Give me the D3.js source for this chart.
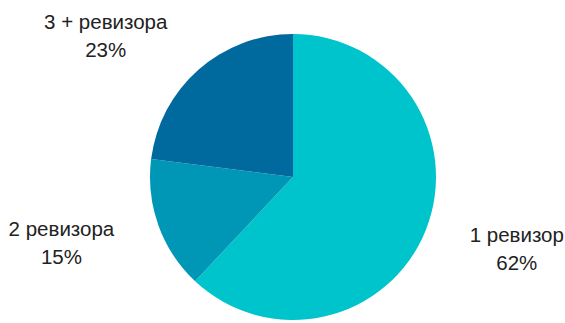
<!DOCTYPE html>
<html>
<head>
<meta charset="utf-8">
<script src="https://cdn.jsdelivr.net/npm/d3@7"></script>
<style>
  html, body { margin: 0; padding: 0; background: #fff; }
  svg { display: block; }
</style>
</head>
<body>
<svg id="chart" width="565" height="323"></svg>
<script>
// Share of inspections by number of inspectors
const categories = ["1 ревизор", "2 ревизора", "3 + ревизора"];
const shares = [62, 15, 23];
const labels = ["62%", "15%", "23%"];
const colors = ["#00C4CC", "#0097B7", "#00699E"];

const width = 565, height = 323;
const cx = 293, cy = 177, radius = 143;
const labelRadius = 190;

const svg = d3.select("#chart");
const g = svg.append("g").attr("transform", `translate(${cx},${cy})`);

const pie = d3.pie().sort(null).value(d => d.value);
const arcs = pie(categories.map((c, i) => ({ name: c, value: shares[i], label: labels[i], color: colors[i] })));

const arc = d3.arc().innerRadius(0).outerRadius(radius);

g.selectAll("path.slice")
  .data(arcs)
  .join("path")
  .attr("class", "slice")
  .attr("d", arc)
  .attr("fill", d => d.data.color);

// Two-line labels outside each slice, anchored towards the slice side
const lineGap = 28;
g.selectAll("text.lbl")
  .data(arcs)
  .join("text")
  .attr("class", "lbl")
  .attr("font-family", "'Liberation Sans', Arial, sans-serif")
  .attr("font-size", 20.5)
  .attr("fill", "#222")
  .each(function (d) {
    const mid = (d.startAngle + d.endAngle) / 2;
    const dx = Math.sin(mid), dy = -Math.cos(mid);
    const x = dx * labelRadius, y = dy * labelRadius;
    const t = d3.select(this);
    const right = dx >= 0;
    // measure the first line so both lines share one center
    const tmp = t.append("tspan").text(d.data.name);
    const w1 = tmp.node().getComputedTextLength();
    tmp.remove();
    const xc = right ? x + w1 / 2 : x - w1 / 2;
    const b1 = y - 5;
    t.attr("text-anchor", "middle");
    t.append("tspan").attr("x", xc).attr("y", b1).text(d.data.name);
    t.append("tspan").attr("x", xc).attr("y", b1 + lineGap).text(d.data.label);
  });
</script>
</body>
</html>
